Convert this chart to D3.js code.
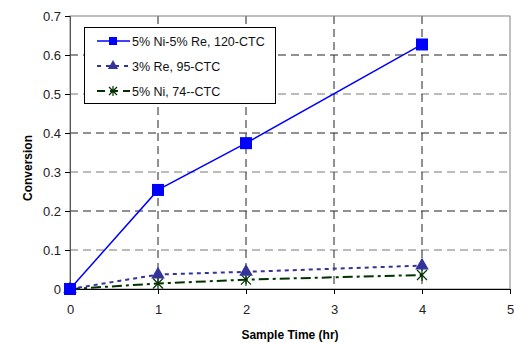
<!DOCTYPE html>
<html><head><meta charset="utf-8">
<script src="https://cdn.jsdelivr.net/npm/d3@7"></script>
<style>body{margin:0;background:#fff}svg{display:block}text{font-family:Arial,"Liberation Sans",sans-serif}</style>
</head><body><svg id="c" width="514" height="343"></svg>
<script>
const xTicks = [0,1,2,3,4,5];
const yTicks = [0,0.1,0.2,0.3,0.4,0.5,0.6,0.7];
const seriesNames = ["5% Ni-5% Re, 120-CTC","3% Re, 95-CTC","5% Ni, 74--CTC"];
const times = [0,1,2,4];
const s1 = [0,0.254,0.374,0.627];
const s2 = [0,0.037,0.044,0.060];
const s3 = [0,0.014,0.024,0.036];

const svg = d3.select("#c");
const M = {l:70, r:510, t:16, b:289};
const x = d3.scaleLinear().domain([0,5]).range([M.l,M.r]);
const y = d3.scaleLinear().domain([0,0.7]).range([M.b,M.t]);

// grid
const g = svg.append("g");
g.selectAll(".hg").data(yTicks.filter(d=>d>0 && d<0.7)).join("line")
  .attr("x1",M.l).attr("x2",M.r).attr("y1",d=>y(d)).attr("y2",d=>y(d))
  .attr("stroke",(d,i)=>i%2?"#222":"#777").attr("stroke-width",1).attr("stroke-dasharray","8,5");
g.selectAll(".vg").data(xTicks.filter(d=>d>0 && d<5)).join("line")
  .attr("x1",d=>x(d)).attr("x2",d=>x(d)).attr("y1",M.t).attr("y2",M.b)
  .attr("stroke","#222").attr("stroke-width",1).attr("stroke-dasharray","8,5");
// frame
svg.append("rect").attr("x",M.l).attr("y",M.t).attr("width",M.r-M.l).attr("height",M.b-M.t)
  .attr("fill","none").attr("stroke","#808080");

// axes
const yAxis = d3.axisLeft(y).tickValues(yTicks).tickSize(5).tickPadding(4)
  .tickFormat(d=>d===0?"0":d3.format(".1f")(d));
const ya = svg.append("g").attr("transform",`translate(${M.l},0)`).call(yAxis);
const xAxis = d3.axisBottom(x).tickValues(xTicks).tickSize(5).tickPadding(11).tickFormat(d3.format("d"));
const xa = svg.append("g").attr("transform",`translate(0,${M.b})`).call(xAxis);
[ya,xa].forEach(a=>{
  a.select(".domain").attr("stroke","#000");
  a.selectAll(".tick line").attr("stroke","#000");
  a.selectAll(".tick text").attr("font-size",13).attr("fill","#222").attr("font-family","Arial");
});
ya.select(".domain").attr("stroke","#555");

// labels
svg.append("text").attr("transform","translate(32,168) rotate(-90)").attr("text-anchor","middle")
  .attr("font-size",12).attr("font-weight","bold").text("Conversion");
svg.append("text").attr("x",290).attr("y",339).attr("text-anchor","middle")
  .attr("font-size",12).attr("font-weight","bold").text("Sample Time (hr)");

const series = [
  {v:s1, color:"#0000ff", dash:null, sym:"square", w:1.5},
  {v:s2, color:"#333399", dash:"4,4", sym:"triangle", w:2},
  {v:s3, color:"#003300", dash:"10,4,3,4", sym:"x", w:2}
];
const line = d3.line().x(d=>x(d[0])).y(d=>y(d[1]));
function sym(sel, type, color){
  if(type==="square"){
    sel.append("rect").attr("x",-6).attr("y",-6).attr("width",12).attr("height",12).attr("fill",color);
  } else if(type==="triangle"){
    sel.append("path").attr("d",d3.symbol(d3.symbolTriangle,80)()).attr("fill",color);
  } else {
    sel.append("path").attr("d","M-5,-5L5,5M-5,5L5,-5M0,-6L0,6").attr("stroke",color).attr("stroke-width",1.2).attr("fill","none");
  }
}
series.slice().reverse().forEach(s=>{
  const pts = times.map((t,i)=>[t,s.v[i]]);
  svg.append("path").datum(pts).attr("d",line).attr("fill","none")
    .attr("stroke",s.color).attr("stroke-width",s.w).attr("stroke-dasharray",s.dash);
  pts.forEach(p=>{
    const gg = svg.append("g").attr("transform",`translate(${x(p[0])},${y(p[1])})`);
    sym(gg,s.sym,s.color);
  });
});

// legend
const L = svg.append("g");
L.append("rect").attr("x",84.5).attr("y",27.5).attr("width",191).attr("height",76)
  .attr("fill","#fff").attr("stroke","#000");
series.forEach((s,i)=>{
  const yy = 41 + i*25;
  L.append("line").attr("x1",97).attr("x2",130).attr("y1",yy).attr("y2",yy)
    .attr("stroke",s.color).attr("stroke-width",s.w).attr("stroke-dasharray",s.dash?(i===1?"4,5":"8,5"):null);
  const gg = L.append("g").attr("transform",`translate(113,${yy})`);
  if(s.sym==="square") gg.append("rect").attr("x",-4).attr("y",-4).attr("width",8).attr("height",8).attr("fill",s.color);
  else if(s.sym==="triangle") gg.append("path").attr("d",d3.symbol(d3.symbolTriangle,45)()).attr("fill",s.color);
  else gg.append("path").attr("d","M-4,-4L4,4M-4,4L4,-4M0,-5L0,5").attr("stroke",s.color).attr("stroke-width",1.2);
  L.append("text").attr("x",132).attr("y",yy+4.5).attr("font-size",12.5).attr("fill","#111").text(seriesNames[i]);
});
</script></body></html>
